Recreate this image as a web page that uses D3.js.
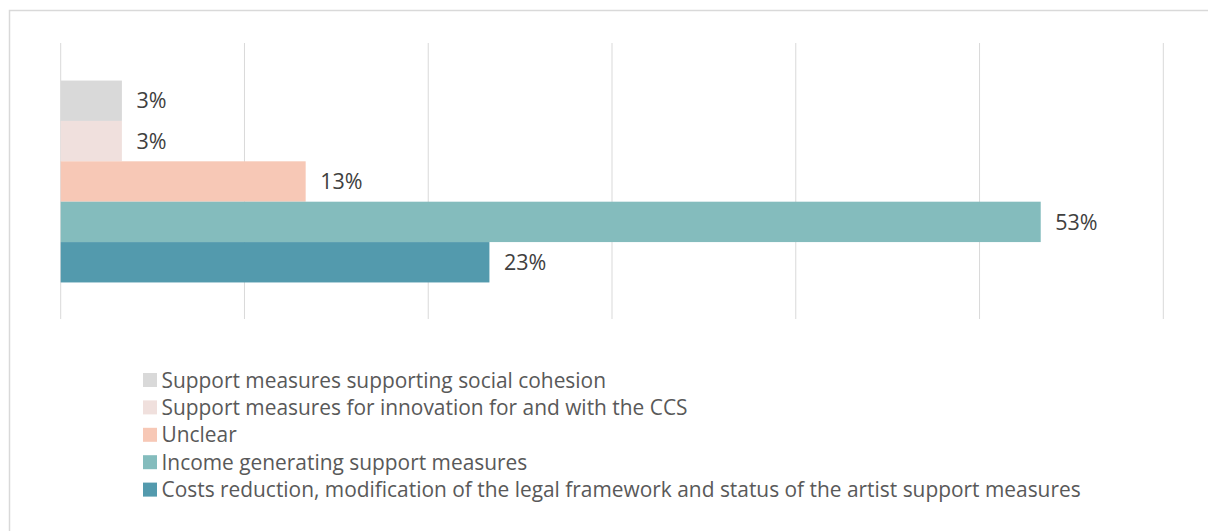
<!DOCTYPE html>
<html>
<head>
<meta charset="utf-8">
<script src="https://cdn.jsdelivr.net/npm/d3@7"></script>
<style>
  html, body { margin: 0; padding: 0; background: #fff; }
  svg { display: block; font-family: "Open Sans", Lato, sans-serif; }
</style>
</head>
<body>
<svg id="chart" width="1208" height="531"></svg>
<script>
// Share of support measures by type (percent of responses)
const seriesNames = [
  "Support measures supporting social cohesion",
  "Support measures for innovation for and with the CCS",
  "Unclear",
  "Income generating support measures",
  "Costs reduction, modification of the legal framework and status of the artist support measures"
];
const seriesValues = [3.33, 3.33, 13.33, 53.33, 23.33];
const seriesColors = ["#d9d9d9", "#f0e0dd", "#f7c8b6", "#84bcbd", "#539aad"];
const gridTicks = [0, 10, 20, 30, 40, 50, 60];

const svg = d3.select("#chart");

// chart frame
svg.append("rect")
  .attr("x", 9.5).attr("y", 10.5)
  .attr("width", 1200).attr("height", 540)
  .attr("fill", "#fff")
  .attr("stroke", "#d9d9d9")
  .attr("stroke-width", 1.5);

const plot = { top: 43, bottom: 320 };

const x = d3.scaleLinear().domain([0, 60]).range([60.7, 1163.3]);
const y = d3.scaleBand()
  .domain(seriesNames)
  .range([plot.top, plot.bottom])
  .paddingInner(0)
  .paddingOuter(0.93);

// vertical gridlines
svg.append("g")
  .selectAll("line")
  .data(gridTicks)
  .join("line")
  .attr("x1", d => x(d)).attr("x2", d => x(d))
  .attr("y1", plot.top).attr("y2", plot.bottom - 1)
  .attr("stroke", "#d9d9d9")
  .attr("stroke-width", 1);

const rows = seriesNames.map((name, i) => ({ name, value: seriesValues[i], color: seriesColors[i] }));

// bars
svg.append("g")
  .selectAll("rect")
  .data(rows)
  .join("rect")
  .attr("x", x(0))
  .attr("y", d => y(d.name))
  .attr("width", d => x(d.value) - x(0))
  .attr("height", y.bandwidth())
  .attr("fill", d => d.color);

// value labels
const fmt = d3.format(".0f");
svg.append("g")
  .selectAll("text")
  .data(rows)
  .join("text")
  .attr("x", d => x(d.value) + 14.5)
  .attr("y", d => y(d.name) + y.bandwidth() / 2)
  .attr("dy", "0.36em")
  .attr("font-size", 21.5)
  .attr("fill", "#404040")
  .text(d => fmt(d.value) + "%");

// legend
const legend = svg.append("g");
const legendRow = 27.4;
const item = legend.selectAll("g")
  .data(rows)
  .join("g")
  .attr("transform", (d, i) => `translate(143, ${380 + i * legendRow})`);

item.append("rect")
  .attr("x", 0).attr("y", -7)
  .attr("width", 14).attr("height", 14)
  .attr("fill", d => d.color);

item.append("text")
  .attr("x", 18.5)
  .attr("y", 0)
  .attr("dy", "0.36em")
  .attr("font-size", 20.9)
  .attr("fill", "#595959")
  .text(d => d.name);
</script>
</body>
</html>
